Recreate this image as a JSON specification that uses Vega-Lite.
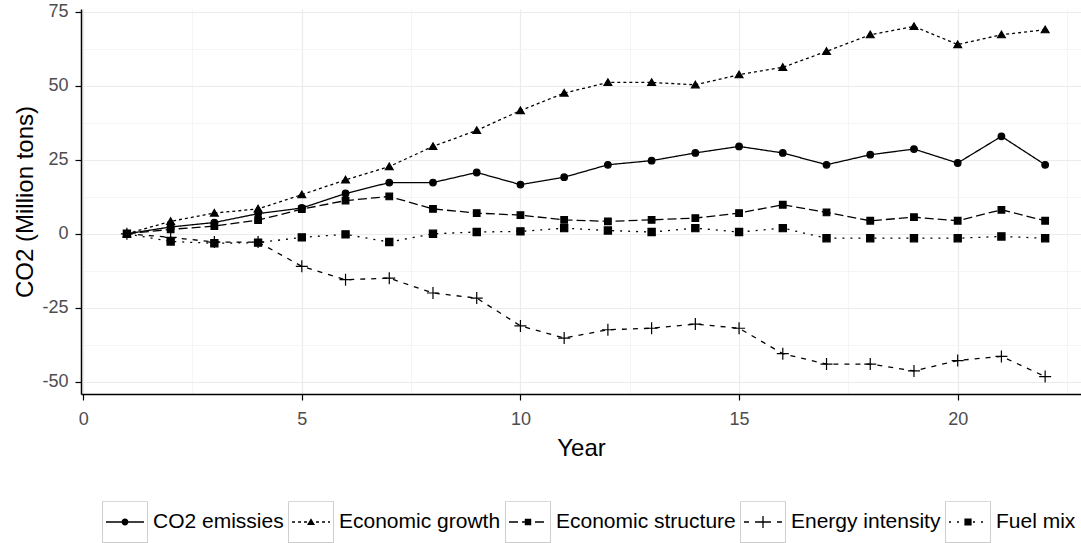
{
"$schema": "https://vega.github.io/schema/vega-lite/v6.json",
"width": 1000, "height": 385,
"autosize": {"type": "none"},
"padding": {"left": 81, "top": 9, "right": 0, "bottom": 149},
"background": "white",
"config": {"view": {"stroke": null}, "font": "Liberation Sans"},
"data": {"values": [
{"Year":1,"Series":"CO2 emissies","CO2":0},{"Year":2,"Series":"CO2 emissies","CO2":2.3},{"Year":3,"Series":"CO2 emissies","CO2":3.8},{"Year":4,"Series":"CO2 emissies","CO2":6.8},{"Year":5,"Series":"CO2 emissies","CO2":8.7},{"Year":6,"Series":"CO2 emissies","CO2":13.6},{"Year":7,"Series":"CO2 emissies","CO2":17.3},{"Year":8,"Series":"CO2 emissies","CO2":17.3},{"Year":9,"Series":"CO2 emissies","CO2":20.7},{"Year":10,"Series":"CO2 emissies","CO2":16.6},{"Year":11,"Series":"CO2 emissies","CO2":19.1},{"Year":12,"Series":"CO2 emissies","CO2":23.3},{"Year":13,"Series":"CO2 emissies","CO2":24.7},{"Year":14,"Series":"CO2 emissies","CO2":27.3},{"Year":15,"Series":"CO2 emissies","CO2":29.5},{"Year":16,"Series":"CO2 emissies","CO2":27.3},{"Year":17,"Series":"CO2 emissies","CO2":23.3},{"Year":18,"Series":"CO2 emissies","CO2":26.7},{"Year":19,"Series":"CO2 emissies","CO2":28.6},{"Year":20,"Series":"CO2 emissies","CO2":23.9},{"Year":21,"Series":"CO2 emissies","CO2":32.9},{"Year":22,"Series":"CO2 emissies","CO2":23.3},
{"Year":1,"Series":"Economic growth","CO2":0},{"Year":2,"Series":"Economic growth","CO2":4.2},{"Year":3,"Series":"Economic growth","CO2":7},{"Year":4,"Series":"Economic growth","CO2":8.4},{"Year":5,"Series":"Economic growth","CO2":13.2},{"Year":6,"Series":"Economic growth","CO2":18.2},{"Year":7,"Series":"Economic growth","CO2":22.7},{"Year":8,"Series":"Economic growth","CO2":29.5},{"Year":9,"Series":"Economic growth","CO2":34.9},{"Year":10,"Series":"Economic growth","CO2":41.6},{"Year":11,"Series":"Economic growth","CO2":47.5},{"Year":12,"Series":"Economic growth","CO2":51.1},{"Year":13,"Series":"Economic growth","CO2":51.1},{"Year":14,"Series":"Economic growth","CO2":50.3},{"Year":15,"Series":"Economic growth","CO2":53.7},{"Year":16,"Series":"Economic growth","CO2":56.2},{"Year":17,"Series":"Economic growth","CO2":61.6},{"Year":18,"Series":"Economic growth","CO2":67.2},{"Year":19,"Series":"Economic growth","CO2":70},{"Year":20,"Series":"Economic growth","CO2":63.9},{"Year":21,"Series":"Economic growth","CO2":67.2},{"Year":22,"Series":"Economic growth","CO2":68.9},
{"Year":1,"Series":"Economic structure","CO2":0},{"Year":2,"Series":"Economic structure","CO2":1.5},{"Year":3,"Series":"Economic structure","CO2":2.6},{"Year":4,"Series":"Economic structure","CO2":4.6},{"Year":5,"Series":"Economic structure","CO2":8.3},{"Year":6,"Series":"Economic structure","CO2":11.2},{"Year":7,"Series":"Economic structure","CO2":12.6},{"Year":8,"Series":"Economic structure","CO2":8.4},{"Year":9,"Series":"Economic structure","CO2":7},{"Year":10,"Series":"Economic structure","CO2":6.3},{"Year":11,"Series":"Economic structure","CO2":4.7},{"Year":12,"Series":"Economic structure","CO2":4.2},{"Year":13,"Series":"Economic structure","CO2":4.7},{"Year":14,"Series":"Economic structure","CO2":5.3},{"Year":15,"Series":"Economic structure","CO2":7},{"Year":16,"Series":"Economic structure","CO2":9.8},{"Year":17,"Series":"Economic structure","CO2":7.2},{"Year":18,"Series":"Economic structure","CO2":4.4},{"Year":19,"Series":"Economic structure","CO2":5.6},{"Year":20,"Series":"Economic structure","CO2":4.4},{"Year":21,"Series":"Economic structure","CO2":8.1},{"Year":22,"Series":"Economic structure","CO2":4.4},
{"Year":1,"Series":"Energy intensity","CO2":0},{"Year":2,"Series":"Energy intensity","CO2":-1.2},{"Year":3,"Series":"Energy intensity","CO2":-2.8},{"Year":4,"Series":"Energy intensity","CO2":-2.8},{"Year":5,"Series":"Energy intensity","CO2":-11},{"Year":6,"Series":"Energy intensity","CO2":-15.5},{"Year":7,"Series":"Energy intensity","CO2":-15},{"Year":8,"Series":"Energy intensity","CO2":-20},{"Year":9,"Series":"Energy intensity","CO2":-21.7},{"Year":10,"Series":"Energy intensity","CO2":-31.1},{"Year":11,"Series":"Energy intensity","CO2":-35.2},{"Year":12,"Series":"Energy intensity","CO2":-32.4},{"Year":13,"Series":"Energy intensity","CO2":-31.9},{"Year":14,"Series":"Energy intensity","CO2":-30.5},{"Year":15,"Series":"Energy intensity","CO2":-31.9},{"Year":16,"Series":"Energy intensity","CO2":-40.5},{"Year":17,"Series":"Energy intensity","CO2":-44},{"Year":18,"Series":"Energy intensity","CO2":-44},{"Year":19,"Series":"Energy intensity","CO2":-46.3},{"Year":20,"Series":"Energy intensity","CO2":-42.8},{"Year":21,"Series":"Energy intensity","CO2":-41.4},{"Year":22,"Series":"Energy intensity","CO2":-48.2},
{"Year":1,"Series":"Fuel mix","CO2":0},{"Year":2,"Series":"Fuel mix","CO2":-2.6},{"Year":3,"Series":"Fuel mix","CO2":-3.2},{"Year":4,"Series":"Fuel mix","CO2":-3},{"Year":5,"Series":"Fuel mix","CO2":-1.2},{"Year":6,"Series":"Fuel mix","CO2":-0.2},{"Year":7,"Series":"Fuel mix","CO2":-2.8},{"Year":8,"Series":"Fuel mix","CO2":0},{"Year":9,"Series":"Fuel mix","CO2":0.6},{"Year":10,"Series":"Fuel mix","CO2":0.8},{"Year":11,"Series":"Fuel mix","CO2":1.9},{"Year":12,"Series":"Fuel mix","CO2":1.1},{"Year":13,"Series":"Fuel mix","CO2":0.6},{"Year":14,"Series":"Fuel mix","CO2":1.9},{"Year":15,"Series":"Fuel mix","CO2":0.6},{"Year":16,"Series":"Fuel mix","CO2":1.9},{"Year":17,"Series":"Fuel mix","CO2":-1.5},{"Year":18,"Series":"Fuel mix","CO2":-1.5},{"Year":19,"Series":"Fuel mix","CO2":-1.5},{"Year":20,"Series":"Fuel mix","CO2":-1.5},{"Year":21,"Series":"Fuel mix","CO2":-0.9},{"Year":22,"Series":"Fuel mix","CO2":-1.5}
]},
"layer": [
{
"mark": {"type": "line", "color": "black", "strokeWidth": 1.3},
"encoding": {
"x": {"field": "Year", "type": "quantitative", "scale": {"domain": [-0.05, 22.82], "nice": false, "zero": false},
"axis": {"orient": "bottom", "values": [0, 5, 10, 15, 20], "grid": true, "gridColor": "#EBEBEB", "gridWidth": 1.2, "domainColor": "black", "domainWidth": 1.5, "tickColor": "black", "tickSize": 6, "tickWidth": 1.2, "labelFontSize": 18, "labelColor": "#4D4D4D", "labelPadding": 10, "title": "Year", "titleFontSize": 24, "titleFontWeight": "normal", "titleColor": "black", "titlePadding": 8}},
"y": {"field": "CO2", "type": "quantitative", "scale": {"domain": [-54.1, 75.9], "nice": false, "zero": false},
"axis": {"orient": "left", "values": [-50, -25, 0, 25, 50, 75], "labelExpr": "'' + datum.value", "grid": true, "gridColor": "#EBEBEB", "gridWidth": 1.2, "domainColor": "black", "domainWidth": 1.5, "tickColor": "black", "tickSize": 6, "tickWidth": 1.2, "labelFontSize": 18, "labelColor": "#4D4D4D", "labelPadding": 7, "title": "CO2 (Million tons)", "titleFontSize": 24, "titleFontWeight": "normal", "titleColor": "black", "titlePadding": 4}},
"strokeDash": {"field": "Series", "type": "nominal", "scale": {"domain": ["CO2 emissies", "Economic growth", "Economic structure", "Energy intensity", "Fuel mix"], "range": [[1, 0], [3, 3], [9, 4], [5, 6], [2, 6]]}, "legend": null}
}
},
{
"mark": {"type": "point", "filled": true, "color": "black", "stroke": "black", "strokeWidth": 1.2, "opacity": 1, "size": 144},
"encoding": {
"x": {"field": "Year", "type": "quantitative", "axis": null},
"y": {"field": "CO2", "type": "quantitative", "axis": null},
"shape": {"field": "Series", "type": "nominal", "scale": {"domain": ["CO2 emissies", "Economic growth", "Economic structure", "Energy intensity", "Fuel mix"], "range": ["M0.55,0A0.55,0.55,0,1,1,-0.55,0A0.55,0.55,0,1,1,0.55,0Z", "M0,-0.6L0.65,0.5L-0.65,0.5Z", "M-0.55,-0.55H0.55V0.55H-0.55Z", "M-1,0H1M0,-1V1", "M-0.6,-0.6H0.6V0.6H-0.6ZM-0.6,-0.6L0.6,0.6M0.6,-0.6L-0.6,0.6"]}, "legend": null}
}
},
{
"transform": [{"filter": "false"}],
"mark": {"type": "point", "filled": true, "color": "#CCCCCC", "opacity": 1},
"encoding": {
"x": {"field": "Year", "type": "quantitative", "axis": null},
"y": {"field": "CO2", "type": "quantitative", "axis": null},
"shape": {"field": "Series", "type": "nominal", "scale": {"domain": ["CO2 emissies", "Economic growth", "Economic structure", "Energy intensity", "Fuel mix"], "range": [
"M-1.21,-1.1H1.21V1.1H-1.21ZM-1.16,-1.05V1.05H1.16V-1.05Z",
"M-1.21,-1.1H1.21V1.1H-1.21ZM-1.16,-1.05V1.05H1.16V-1.05Z",
"M-1.21,-1.1H1.21V1.1H-1.21ZM-1.16,-1.05V1.05H1.16V-1.05Z",
"M-1.21,-1.1H1.21V1.1H-1.21ZM-1.16,-1.05V1.05H1.16V-1.05Z",
"M-1.21,-1.1H1.21V1.1H-1.21ZM-1.16,-1.05V1.05H1.16V-1.05Z"
]},
"legend": {"title": null, "orient": "none", "legendX": 25, "legendY": 494, "direction": "horizontal", "columns": 5, "symbolSize": 1444, "symbolStrokeWidth": 0, "labelFontSize": 21, "labelOpacity": 0, "labelOffset": 9, "labelLimit": 400, "columnPadding": 4, "padding": 0}}
}
},
{
"transform": [{"filter": "false"}],
"mark": {"type": "point", "filled": true, "color": "black", "opacity": 1},
"encoding": {
"x": {"field": "Year", "type": "quantitative", "axis": {"orient": "bottom", "values": [2.5, 7.5, 12.5, 17.5, 22.5], "grid": true, "gridColor": "#F3F3F3", "gridWidth": 0.8, "labels": false, "ticks": false, "domain": false, "title": null}},
"y": {"field": "CO2", "type": "quantitative", "axis": {"orient": "left", "values": [-37.5, -12.5, 12.5, 37.5, 62.5], "grid": true, "gridColor": "#F3F3F3", "gridWidth": 0.8, "labels": false, "ticks": false, "domain": false, "title": null}},
"shape": {"field": "Series", "type": "nominal", "scale": {"domain": ["CO2 emissies", "Economic growth", "Economic structure", "Energy intensity", "Fuel mix"], "range": [
"M-1,-0.034H1V0.034H-1ZM0.18,0A0.18,0.18,0,1,1,-0.18,0A0.18,0.18,0,1,1,0.18,0Z",
"M-1,-0.034H-0.842V0.034H-1ZM-0.684,-0.034H-0.526V0.034H-0.684ZM-0.368,-0.034H-0.211V0.034H-0.368ZM-0.053,-0.034H0.105V0.034H-0.053ZM0.263,-0.034H0.421V0.034H0.263ZM0.579,-0.034H0.737V0.034H0.579ZM0.895,-0.034H1V0.034H0.895ZM0,-0.2L0.21,0.16L-0.21,0.16Z",
"M-1,-0.034H-0.526V0.034H-1ZM-0.316,-0.034H0.158V0.034H-0.316ZM0.368,-0.034H0.842V0.034H0.368ZM-0.17,-0.17H0.17V0.17H-0.17Z",
"M-1,-0.034H-0.737V0.034H-1ZM-0.421,-0.034H-0.158V0.034H-0.421ZM0.158,-0.034H0.421V0.034H0.158ZM0.737,-0.034H1V0.034H0.737ZM-0.32,-0.034H0.32V0.034H-0.32ZM-0.034,-0.32H0.034V0.32H-0.034Z",
"M-1,-0.034H-0.895V0.034H-1ZM-0.579,-0.034H-0.474V0.034H-0.579ZM0.263,-0.034H0.368V0.034H0.263ZM0.684,-0.034H0.789V0.034H0.684ZM-0.19,-0.19H0.19V0.19H-0.19Z"
]},
"legend": {"title": null, "orient": "none", "legendX": 25, "legendY": 494, "direction": "horizontal", "columns": 5, "symbolSize": 1444, "symbolStrokeWidth": 0, "labelFontSize": 21, "labelColor": "black", "labelOffset": 9, "labelLimit": 400, "columnPadding": 8, "padding": 0}}
}
}
],
"resolve": {"scale": {"shape": "independent"}, "axis": {"x": "independent", "y": "independent"}}
}
